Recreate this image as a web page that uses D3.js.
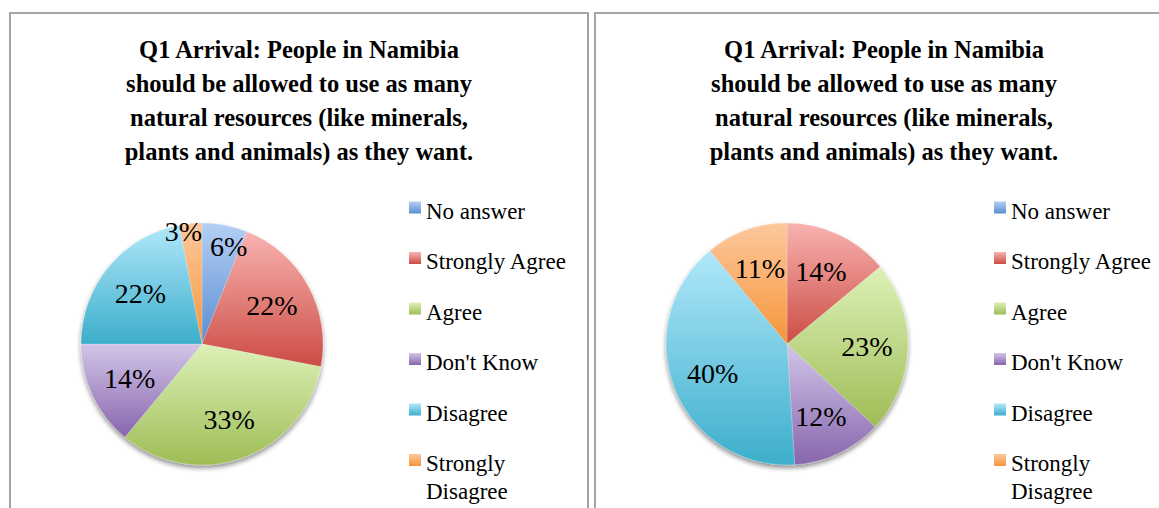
<!DOCTYPE html>
<html>
<head>
<meta charset="utf-8">
<script src="https://cdn.jsdelivr.net/npm/d3@7/dist/d3.min.js"></script>
<style>
  html, body { margin: 0; padding: 0; background: #ffffff; }
  svg { display: block; }
</style>
</head>
<body>
<svg id="chart" width="1159" height="508"></svg>
<script>
// Survey answers, Q1 on arrival (percent of respondents per answer)
const categories = ["No answer", "Strongly Agree", "Agree", "Don't Know", "Disagree", "Strongly Disagree"];
const groupLeft  = [6, 22, 33, 14, 22, 3];
const groupRight = [0, 14, 23, 12, 40, 11];
const titleLines = [
  "Q1 Arrival: People in Namibia",
  "should be allowed to use as many",
  "natural resources (like minerals,",
  "plants and animals) as they want."
];

// Two-stop vertical gradients per answer (light top, saturated bottom)
const lightColors = ["#b4cff4", "#f8b3b1", "#ddf1b8", "#d2c5e8", "#b0e8fb", "#fdc89d"];
const darkColors  = ["#5a8ed2", "#cc4c44", "#9ebd55", "#8766ad", "#3daecb", "#f5953a"];

const W = 1159, H = 508;
const panelW = 578, panelStep = 585, panelX0 = 10, panelY0 = 13;
const pieCx = 192, pieCy = 344, radius = 121;
const serif = "'Liberation Serif', 'Times New Roman', serif";

const svg = d3.select("#chart");
const defs = svg.append("defs");

categories.forEach((c, i) => {
  const g = defs.append("linearGradient")
    .attr("id", "grad" + i)
    .attr("x1", 0).attr("y1", 0).attr("x2", 0).attr("y2", 1);
  g.append("stop").attr("offset", "0%").attr("stop-color", lightColors[i]);
  g.append("stop").attr("offset", "100%").attr("stop-color", darkColors[i]);
});

const shadow = defs.append("filter").attr("id", "pieShadow")
  .attr("x", "-20%").attr("y", "-20%").attr("width", "140%").attr("height", "140%");
shadow.append("feGaussianBlur").attr("in", "SourceAlpha").attr("stdDeviation", 2.5).attr("result", "blur");
shadow.append("feOffset").attr("in", "blur").attr("dx", 0).attr("dy", 3).attr("result", "off");
shadow.append("feComponentTransfer").attr("in", "off").attr("result", "shade")
  .append("feFuncA").attr("type", "linear").attr("slope", 0.45);
const merge = shadow.append("feMerge");
merge.append("feMergeNode").attr("in", "shade");
merge.append("feMergeNode").attr("in", "SourceGraphic");

const pie = d3.pie().sort(null).value(d => d.value);
const arc = d3.arc().innerRadius(0).outerRadius(radius);

// small slices get their label pushed towards the rim
function labelRadius(v) {
  if (v < 5) return radius * 0.93;
  if (v < 10) return radius * 0.82;
  return radius * 0.66;
}

function drawPanel(values, index) {
  const data = categories.map((c, i) => ({ category: c, value: values[i], idx: i }));
  const panel = svg.append("g")
    .attr("transform", `translate(${panelX0 + index * panelStep},${panelY0})`);

  // panel frame
  panel.append("rect")
    .attr("x", 0).attr("y", 0)
    .attr("width", panelW).attr("height", H)
    .attr("fill", "#ffffff")
    .attr("stroke", "#a5a5a5")
    .attr("stroke-width", 2);

  // title
  const title = panel.append("text")
    .attr("text-anchor", "middle")
    .attr("font-family", serif)
    .attr("font-weight", "bold")
    .attr("font-size", 24.5)
    .attr("fill", "#000");
  titleLines.forEach((line, i) => {
    title.append("tspan").attr("x", panelW / 2).attr("y", 45 + i * 34).text(line);
  });

  // pie
  const arcs = pie(data);
  const shown = arcs.filter(a => a.data.value > 0);
  const pieG = panel.append("g")
    .attr("transform", `translate(${pieCx},${pieCy - panelY0})`)
    .attr("filter", "url(#pieShadow)");
  pieG.selectAll("path")
    .data(shown)
    .join("path")
    .attr("d", arc)
    .attr("fill", d => `url(#grad${d.data.idx})`)
    .attr("stroke", "rgba(255,255,255,0.35)")
    .attr("stroke-width", 0.6);

  // percentage labels
  const labelsG = panel.append("g")
    .attr("transform", `translate(${pieCx},${pieCy - panelY0})`);
  const pos = shown.map(d => {
    const r = labelRadius(d.data.value);
    return d3.arc().innerRadius(r).outerRadius(r).centroid(d);
  });
  const labels = labelsG.selectAll("text")
    .data(shown)
    .join("text")
    .attr("x", (d, i) => pos[i][0])
    .attr("y", (d, i) => pos[i][1])
    .attr("text-anchor", "middle")
    .attr("dominant-baseline", "central")
    .attr("font-family", serif)
    .attr("font-size", 28)
    .attr("fill", "#000")
    .text(d => d.data.value + "%");

  // separate neighbouring labels that collide
  const nodes = labels.nodes();
  const gap = 8;
  for (let i = 0; i < nodes.length; i++) {
    for (let j = i + 1; j < nodes.length; j++) {
      const a = nodes[i].getBBox(), b = nodes[j].getBBox();
      const overlapX = Math.min(a.x + a.width, b.x + b.width) - Math.max(a.x, b.x) + gap;
      const overlapY = Math.min(a.y + a.height, b.y + b.height) - Math.max(a.y, b.y);
      if (overlapX > 0 && overlapY > 0) {
        const dir = (a.x + a.width / 2) <= (b.x + b.width / 2) ? -1 : 1;
        pos[i][0] += dir * overlapX / 2;
        pos[j][0] -= dir * overlapX / 2;
        d3.select(nodes[i]).attr("x", pos[i][0]);
        d3.select(nodes[j]).attr("x", pos[j][0]);
      }
    }
  }

  // legend
  const legend = panel.append("g").attr("transform", `translate(399,0)`);
  const rowStep = 50.5, firstBaseline = 205.5, maxTextW = 150, lineStep = 28.3;
  data.forEach((d, i) => {
    const by = firstBaseline + i * rowStep;
    legend.append("rect")
      .attr("x", 0).attr("y", by - 17)
      .attr("width", 12).attr("height", 12)
      .attr("fill", `url(#grad${i})`);
    const t = legend.append("text")
      .attr("font-family", serif)
      .attr("font-size", 23)
      .attr("fill", "#000");
    // wrap the label onto extra lines when it runs past the legend width
    const words = d.category.split(" ");
    let line = [];
    let lineNo = 0;
    let tspan = t.append("tspan").attr("x", 17).attr("y", by);
    words.forEach(w => {
      line.push(w);
      tspan.text(line.join(" "));
      if (tspan.node().getComputedTextLength() > maxTextW && line.length > 1) {
        line.pop();
        tspan.text(line.join(" "));
        line = [w];
        lineNo += 1;
        tspan = t.append("tspan").attr("x", 17).attr("y", by + lineNo * lineStep).text(w);
      }
    });
  });
}

drawPanel(groupLeft, 0);
drawPanel(groupRight, 1);
</script>
</body>
</html>
